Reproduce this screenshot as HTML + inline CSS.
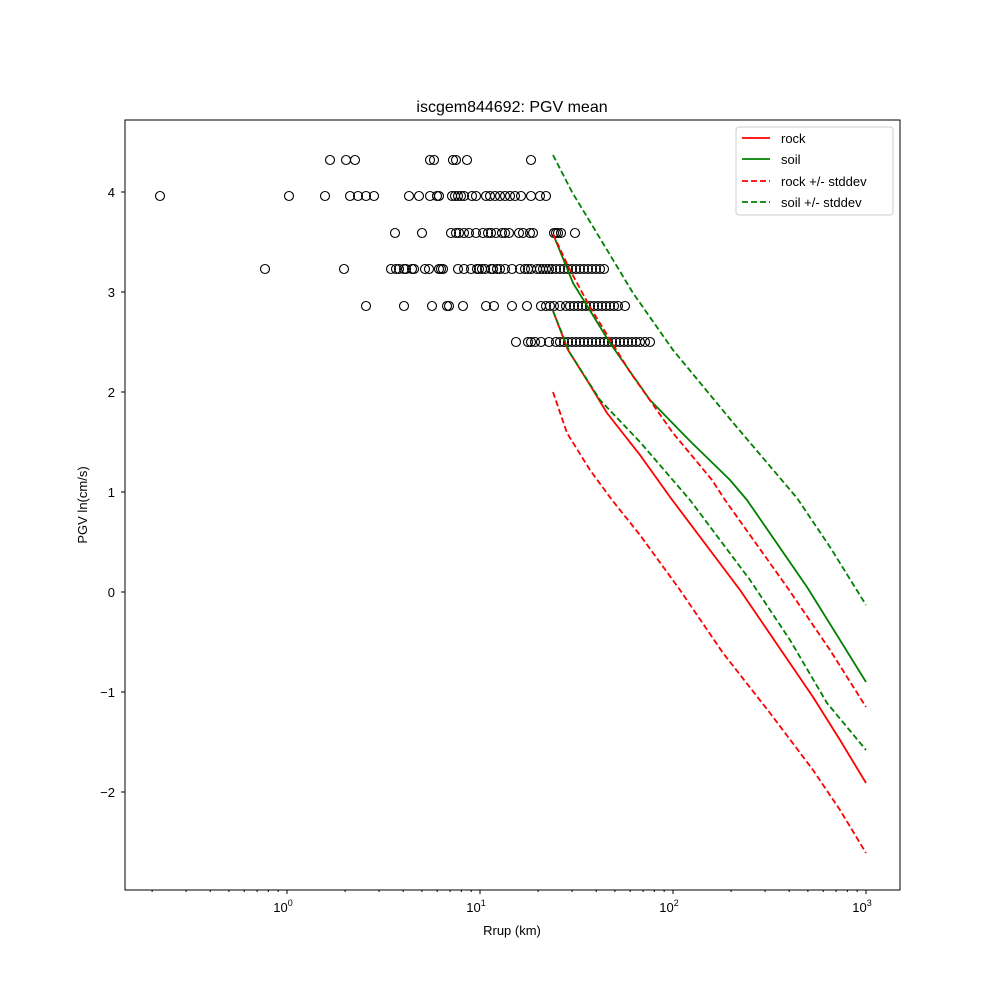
<!DOCTYPE html>
<html><head><meta charset="utf-8"><style>body{margin:0;background:#fff}svg{display:block}</style></head><body>
<svg width="1000" height="1000" xmlns="http://www.w3.org/2000/svg" font-family="Liberation Sans, DejaVu Sans, sans-serif">
<rect width="1000" height="1000" fill="#fff"/>
<text x="512" y="112" font-size="16" text-anchor="middle">iscgem844692: PGV mean</text>
<g id="pts" fill="none" stroke="#000" stroke-width="1.1"></g>
<g fill="none" stroke-width="1.8" stroke-linejoin="round">
<polyline stroke="#f00" points="553,311 568,350 590,385 607,413 640,455 670,497 740,590 813,697 840,740 866,783"/>
<polyline stroke="#008000" points="553,234 573,283 610,343 650,400 690,441 730,480 747,500 807,587 840,640 866,682"/>
<polyline stroke="#f00" stroke-dasharray="6,3" points="553,234 570,270 590,307 630,372 673,433 712,480 725,500 787,587 830,650 866,707"/>
<polyline stroke="#f00" stroke-dasharray="6,3" points="553,392 567,433 590,470 612,500 640,535 680,590 723,653 770,713 813,770 840,810 866,853"/>
<polyline stroke="#008000" stroke-dasharray="6,3" points="553,155 572,192 595,230 633,293 673,350 735,425 797,498 830,547 866,605"/>
<polyline stroke="#008000" stroke-dasharray="6,3" points="553,311 570,353 600,400 640,442 690,500 750,580 790,640 827,703 866,750"/>
</g>
<rect x="125" y="120" width="775" height="770" fill="none" stroke="#000" stroke-width="1"/>
<g id="ticks" stroke="#000"></g>
<g font-size="13" text-anchor="end">
<text x="115" y="197">4</text><text x="115" y="297">3</text><text x="115" y="397">2</text><text x="115" y="497">1</text><text x="115" y="597">0</text><text x="115" y="697">−1</text><text x="115" y="797">−2</text>
</g>
<g font-size="13" text-anchor="middle">
<text x="283" y="912">10<tspan dy="-6" font-size="9">0</tspan></text>
<text x="476" y="912">10<tspan dy="-6" font-size="9">1</tspan></text>
<text x="669" y="912">10<tspan dy="-6" font-size="9">2</tspan></text>
<text x="862" y="912">10<tspan dy="-6" font-size="9">3</tspan></text>
</g>
<text x="512" y="935" font-size="13" text-anchor="middle">Rrup (km)</text>
<text transform="translate(87,505) rotate(-90)" font-size="13" text-anchor="middle">PGV ln(cm/s)</text>
<rect x="736" y="127" width="157" height="88" fill="#fff" stroke="#ccc" rx="3"/>
<g stroke-width="1.8" fill="none">
<line x1="742" y1="138" x2="770" y2="138" stroke="#f00"/>
<line x1="742" y1="159" x2="770" y2="159" stroke="#008000"/>
<line x1="742" y1="181" x2="770" y2="181" stroke="#f00" stroke-dasharray="6,3"/>
<line x1="742" y1="202" x2="770" y2="202" stroke="#008000" stroke-dasharray="6,3"/>
</g>
<g font-size="13"><text x="781" y="143">rock</text><text x="781" y="164">soil</text><text x="781" y="186">rock +/- stddev</text><text x="781" y="207">soil +/- stddev</text></g>
<script>
var rows={160:[330,346,355,430,434,453,456,467,531],
196:[160,289,325,350,358,366,374,409,419,430,437,439,452,455,458,461,464,472,476,486,490,495,500,505,510,515,521,531,540,546],
233:[395,422,451,456,459,464,469,476,483,488,491,496,502,505,509,519,523,530,533,554,556,558,561,575],
269:[265,344,391,396,399,404,406,412,414,425,429,439,441,443,458,464,471,477,479,482,485,491,493,497,500,505,512,520,525,528,531,537,540,543,546,549,552,556,560,564,568,572,576,580,584,588,592,596,600,604],
306:[366,404,432,447,449,463,486,494,512,527,541,546,550,554,560,566,570,574,578,582,586,590,594,598,602,606,610,614,618,625],
342:[516,528,531,535,541,549,556,560,564,568,572,576,580,584,588,592,596,600,604,608,612,616,620,624,628,632,636,640,645,650]};
var ns="http://www.w3.org/2000/svg",g=document.getElementById("pts");
for(var y in rows)rows[y].forEach(function(x){var c=document.createElementNS(ns,"circle");c.setAttribute("cx",x);c.setAttribute("cy",y);c.setAttribute("r",4.5);g.appendChild(c);});
var t=document.getElementById("ticks");
function L(a,b,c,d){var l=document.createElementNS(ns,"line");l.setAttribute("x1",a);l.setAttribute("y1",b);l.setAttribute("x2",c);l.setAttribute("y2",d);t.appendChild(l);}
for(var v=-2;v<=4;v++){var yy=592-100*v;L(125,yy,121,yy);}
for(var e=-1;e<=3;e++){for(var k=1;k<10;k++){var x=287+193*(e+Math.log10(k));if(x<125||x>900)continue;L(x,890,x,k==1?894:892);}}
</script>
</svg>
</body></html>
